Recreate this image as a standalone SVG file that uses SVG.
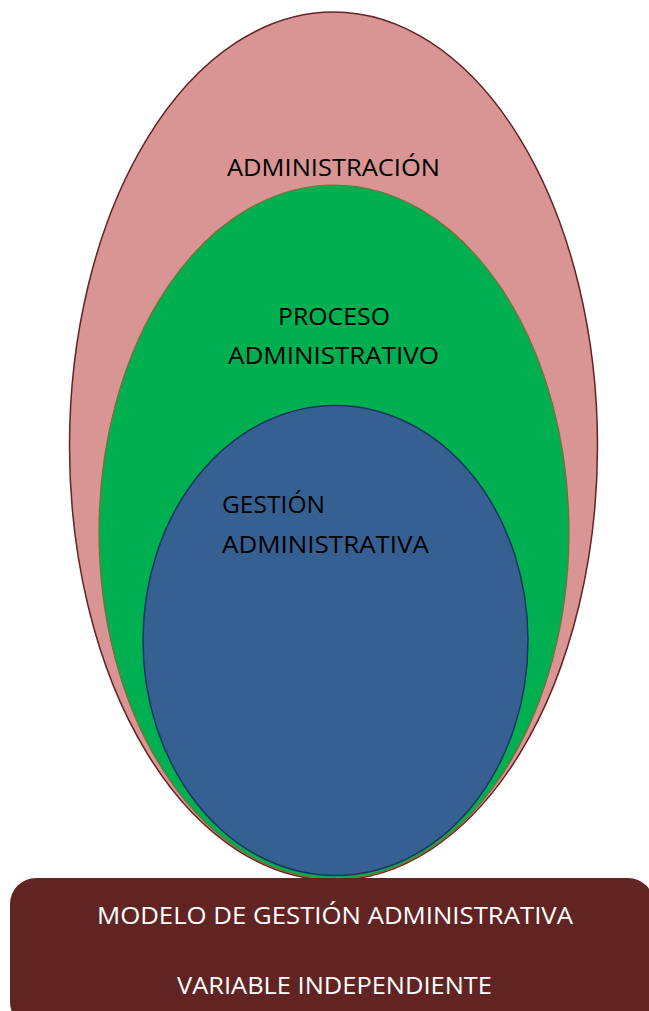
<svg xmlns="http://www.w3.org/2000/svg" width="649" height="1011" viewBox="0 0 649 1011">
  <style>
    .lbl { font-family: "Open Sans", "Noto Sans", "Liberation Sans", sans-serif; font-size: 24px; fill: #000000; }
    .lbl-w { font-family: "Open Sans", "Noto Sans", "Liberation Sans", sans-serif; font-size: 24px; fill: #FFFFFF; }
  </style>
  <rect x="0" y="0" width="649" height="1011" fill="#FFFFFF"/>

  <!-- outermost set -->
  <g id="administracion">
    <ellipse cx="333.5" cy="446" rx="264" ry="434" fill="#D99594" stroke="#622423" stroke-width="1.5"/>
    <text class="lbl" x="227" y="176" textLength="213" lengthAdjust="spacingAndGlyphs">ADMINISTRACIÓN</text>
  </g>

  <!-- middle set -->
  <g id="proceso-administrativo">
    <ellipse cx="334" cy="532" rx="235" ry="347" fill="#00B050" stroke="#7F6A3A" stroke-width="1.2"/>
    <text class="lbl" x="278" y="325" textLength="112" lengthAdjust="spacingAndGlyphs">PROCESO</text>
    <text class="lbl" x="228" y="364" textLength="211" lengthAdjust="spacingAndGlyphs">ADMINISTRATIVO</text>
  </g>

  <!-- inner set -->
  <g id="gestion-administrativa">
    <ellipse cx="335.5" cy="640.5" rx="192.5" ry="235" fill="#366092" stroke="#17375E" stroke-width="1.5"/>
    <text class="lbl" x="222" y="513" textLength="103" lengthAdjust="spacingAndGlyphs">GESTIÓN</text>
    <text class="lbl" x="222" y="553" textLength="207" lengthAdjust="spacingAndGlyphs">ADMINISTRATIVA</text>
  </g>

  <!-- base banner -->
  <g id="modelo">
    <rect x="10" y="878" width="644" height="150" rx="26" ry="26" fill="#622423"/>
    <text class="lbl-w" x="97" y="924" textLength="476" lengthAdjust="spacingAndGlyphs">MODELO DE GESTIÓN ADMINISTRATIVA</text>
    <text class="lbl-w" x="177" y="994" textLength="315" lengthAdjust="spacingAndGlyphs">VARIABLE INDEPENDIENTE</text>
  </g>

  <g id="connectors"></g>
</svg>
